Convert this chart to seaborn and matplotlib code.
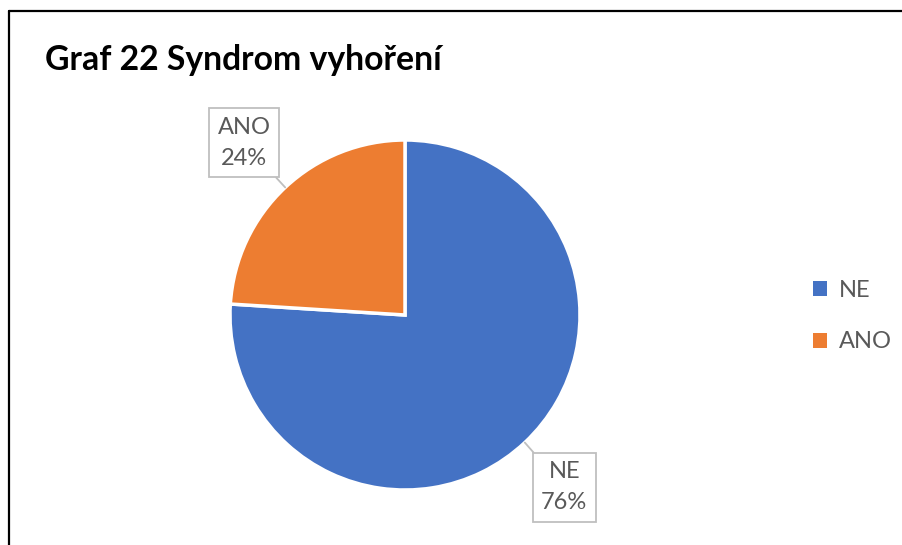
import matplotlib
matplotlib.use("Agg")
import matplotlib.pyplot as plt
from matplotlib.lines import Line2D
import numpy as np
import seaborn as sns

# Data
labels = ["NE", "ANO"]
shares = [76, 24]
colors = ["#4472C4", "#ED7D31"]
title = "Graf 22 Syndrom vyhoření"

FIG_W, FIG_H = 902, 545
DPI = 100

sns.set_theme(style="white")
plt.rcParams["font.family"] = ["Lato", "DejaVu Sans"]

fig = plt.figure(figsize=(FIG_W / DPI, FIG_H / DPI), dpi=DPI)

# pie centre ~ (405, 315) px, radius ~ 175 px
cx, cy, r = 405, 315, 175
ax = fig.add_axes([(cx - r) / FIG_W, (FIG_H - cy - r) / FIG_H, 2 * r / FIG_W, 2 * r / FIG_H])
wedges, _ = ax.pie(shares, colors=colors, startangle=90, counterclock=False,
                   wedgeprops=dict(edgecolor="white", linewidth=2.5))
ax.set_xlim(-1, 1)
ax.set_ylim(-1, 1)
ax.set_aspect("equal")
ax.axis("off")

# label boxes with leader lines
text_pos = {"NE": (0.91, -0.985), "ANO": (-0.92, 0.985)}
for w, lab, val in zip(wedges, labels, shares):
    ang = np.deg2rad((w.theta1 + w.theta2) / 2)
    tip = (np.cos(ang), np.sin(ang))
    ax.annotate(f"{lab}\n{val}%", xy=tip, xytext=text_pos[lab],
                ha="center", va="center", fontsize=17, color="#595959",
                linespacing=1.6, annotation_clip=False,
                bbox=dict(boxstyle="square,pad=0.35", fc="white", ec="#BFBFBF", lw=1.3),
                arrowprops=dict(arrowstyle="-", color="#BFBFBF", lw=1.3,
                                shrinkA=0, shrinkB=0))

fig.text(45 / FIG_W, 1 - 60 / FIG_H, title, fontsize=24.3, fontweight="bold",
         color="black", ha="left", va="center")

leg = fig.legend(wedges, labels, loc="center left",
                 bbox_to_anchor=(792 / FIG_W, 1 - 316 / FIG_H),
                 frameon=False, fontsize=17, handlelength=0.6, handleheight=0.6,
                 handletextpad=0.5, labelspacing=1.3)
for t in leg.get_texts():
    t.set_color("#595959")
for h in leg.legend_handles:
    h.set_edgecolor("none")

# chart frame (left and top edges visible)
fig.add_artist(Line2D([9 / FIG_W, 9 / FIG_W], [0, 1 - 11 / FIG_H], color="black", lw=1.6))
fig.add_artist(Line2D([9 / FIG_W, 1], [1 - 11 / FIG_H, 1 - 11 / FIG_H], color="black", lw=1.6))

fig.savefig("out.png", dpi=DPI, facecolor="white")
